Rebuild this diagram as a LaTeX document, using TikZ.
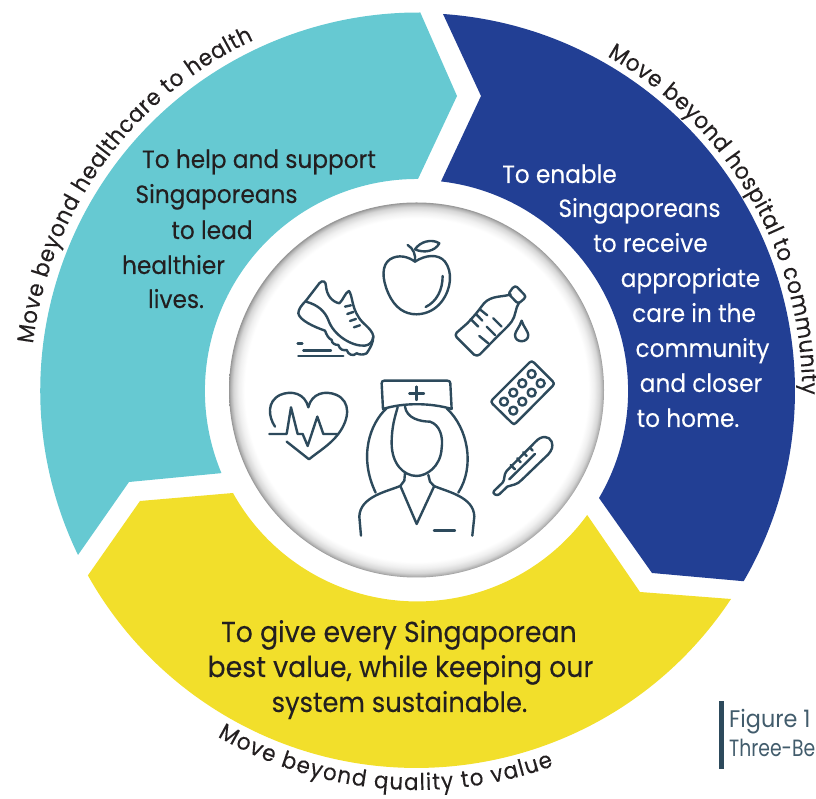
\documentclass[tikz,border=0pt]{standalone}
\usepackage{fontspec}
\setmainfont[FakeStretch=0.93,FakeBold=0.15]{Poppins}
\newfontfamily\capfont[FakeStretch=0.93]{Poppins}
\newfontfamily\capnarrow[FakeStretch=0.8]{Poppins}
\usetikzlibrary{decorations.text}
\definecolor{tealseg}{HTML}{66C9D2}
\definecolor{blueseg}{HTML}{223F94}
\definecolor{yellowseg}{HTML}{F2DF2B}
\definecolor{inkdark}{HTML}{231F20}
\definecolor{iconink}{HTML}{2D4A5C}
\pgfdeclareradialshading{discshade}{\pgfpoint{0bp}{0bp}}{%
 color(0bp)=(white); color(22.9bp)=(white); color(23.7bp)=(white!94!black);
 color(24.4bp)=(white!84!black); color(24.8bp)=(white!70!black); color(25bp)=(white!58!black); color(50bp)=(white!58!black)}
\tikzset{
 bodyline/.style={inner sep=0pt,anchor=base,font=\fontsize{25}{30}\selectfont,text=inkdark},
 whiteline/.style={bodyline,text=white},
 bigline/.style={inner sep=0pt,anchor=base,font=\fontsize{28.8}{34}\selectfont,text=inkdark},
 capline/.style={inner sep=0pt,anchor=base west,font=\capfont\fontsize{24}{28}\selectfont,text=iconink!90!white},
 icon/.style={draw=iconink,line width=2.4pt,line cap=round,line join=round,fill=none},
 arctext/.style={decorate,decoration={text along path,text align={fit to path},text={#1}}}
}
\newcommand{\arcfont}{\fontsize{23}{28}\selectfont\color{inkdark}}
\begin{document}
\begin{tikzpicture}[x=1pt,y=1pt]
\useasboundingbox (0,0) rectangle (816,799);
\coordinate (C) at (417,408);
% ring segments
\fill[tealseg] (78,244) arc[start angle=205.8,end angle=89.7,radius=378pt] -- (457,703) -- (418,620)
  arc[start angle=89.7,end angle=202.8,radius=212pt] -- (129,317) -- cycle;
\fill[blueseg] (443,785) arc[start angle=86.05,end angle=-30.2,radius=378pt] -- (652,226) -- (599,301)
  arc[start angle=-30.45,end angle=83.5,radius=211pt] -- (481,703) -- cycle;
\fill[yellowseg] (731,200) arc[start angle=-33.5,end angle=-150.7,radius=377pt] -- (140,298) -- (233,306)
  arc[start angle=209,end angle=323.9,radius=210.5pt] -- (640,207) -- cycle;
% disc
\shade[shading=discshade] (416.5,409) circle[radius=187.5pt];
% curved labels
\path[arctext={|\arcfont|Move beyond healthcare to health}] (C) ++(173:387) arc[start angle=173,end angle=115,radius=387pt];
\path[arctext={|\arcfont|Move beyond hospital to community}] (C) ++(60.4:385) arc[start angle=60.4,end angle=-0.5,radius=385pt];
\path[arctext={|\arcfont|Move beyond quality to value}] (C) ++(240:399) arc[start angle=240,end angle=290,radius=399pt];
% text, pixel coordinates from the top
\begin{scope}[shift={(0,799)},y=-1pt]
\node[bodyline] (t1) at (259,168) {To help and support};
\node[bodyline] (t2) at (216.5,203) {Singaporeans};
\node[bodyline] (t3) at (212,239) {to lead};
\node[bodyline] (t4) at (173.5,274) {healthier};
\node[bodyline] (t5) at (176,308) {lives.};
\node[whiteline] (b1) at (559.5,183) {To enable};
\node[whiteline] (b2) at (639.5,217) {Singaporeans};
\node[whiteline] (b3) at (650.5,252) {to receive};
\node[whiteline] (b4) at (690.5,287) {appropriate};
\node[whiteline] (b5) at (694,322) {care in the};
\node[whiteline] (b6) at (702.5,357) {community};
\node[whiteline] (b7) at (701,392) {and closer};
\node[whiteline] (b8) at (688,427) {to home.};
\node[bigline] (y1) at (399,642) {To give every Singaporean};
\node[bigline] (y2) at (400.5,677) {best value, while keeping our};
\node[bigline,font=\fontsize{27.7}{34}\selectfont] (y3) at (399.5,712) {system sustainable.};
\fill[iconink] (719,701) rectangle (724.3,769);
\node[capline] (f1) at (729,728) {Figure 1};
\node[capline,font=\capnarrow\fontsize{23.5}{28}\selectfont] (f2) at (729,757) {Three-Be};
\end{scope}
% icons, in 3x crop coordinates
\begin{scope}[shift={(230,589)},x=0.3333pt,y=-0.3333pt]
% apple
\draw[icon] (555,155) .. controls (585,135) and (625,130) .. (645,155) .. controls (668,185) and (665,235) .. (635,275)
  .. controls (615,300) and (590,312) .. (560,313) .. controls (525,313) and (495,295) .. (475,250)
  .. controls (455,205) and (455,165) .. (480,148) .. controls (505,132) and (535,140) .. (555,155);
\draw[icon] (638,198) .. controls (638,240) and (620,275) .. (587,291);
\draw[icon] (555,155) .. controls (558,135) and (550,115) .. (533,105);
\draw[icon] (555,118) .. controls (570,95) and (605,85) .. (628,100) .. controls (615,125) and (580,130) .. (555,118);
% shoe
\draw[icon] (228,272) -- (268,220) .. controls (278,208) and (288,215) .. (288,228) .. controls (290,255) and (305,275) .. (328,280)
  .. controls (340,270) and (345,248) .. (357,243) .. controls (368,258) and (365,290) .. (385,320)
  .. controls (395,340) and (425,355) .. (430,378) .. controls (430,400) and (420,415) .. (410,430);
\draw[icon] (228,272) .. controls (215,285) and (205,298) .. (205,310) .. controls (208,330) and (250,350) .. (285,362)
  .. controls (290,375) and (295,385) .. (305,390) .. controls (305,400) and (315,405) .. (325,405)
  .. controls (330,420) and (340,422) .. (350,420) .. controls (355,435) and (370,440) .. (380,430) .. controls (390,435) and (400,435) .. (410,430);
\draw[icon] (228,275) .. controls (265,285) and (285,305) .. (295,330) .. controls (310,375) and (365,410) .. (405,407) .. controls (420,405) and (428,395) .. (430,380);
\draw[icon] (345,290) -- (363,286) (352,312) -- (370,306) (360,333) -- (378,327) (372,352) -- (390,346);
\draw[icon] (203,400) -- (217,400) (220,421) -- (303,421) (205,438) -- (340,438);
% bottle
\draw[icon] (838,248) -- (848,234) .. controls (853,228) and (858,228) .. (862,232) -- (883,254) .. controls (887,258) and (887,262) .. (882,267) -- (870,277) .. controls (866,280) and (862,279) .. (858,275) -- (838,254) .. controls (836,252) and (836,250) .. (838,248);
\draw[icon] (842,253) .. controls (820,262) and (785,255) .. (762,280) .. controls (750,295) and (745,305) .. (712,340) -- (680,368) .. controls (676,372) and (676,378) .. (680,382) -- (732,434) .. controls (738,438) and (745,438) .. (750,433) -- (790,392) .. controls (805,375) and (830,355) .. (845,335) .. controls (858,318) and (855,295) .. (868,277);
\draw[icon] (722,327) -- (745,350) (738,312) -- (757,332) (752,300) -- (772,316);
\draw[icon] (790,325) -- (815,350) (770,350) -- (795,375) (748,378) -- (775,400);
\draw[icon] (875,332) .. controls (870,350) and (855,365) .. (855,375) .. controls (855,400) and (895,400) .. (895,375) .. controls (895,365) and (880,350) .. (875,332);
% blister pack
\draw[icon] (898,458) .. controls (902,453) and (908,453) .. (912,458) -- (968,514) .. controls (973,518) and (973,524) .. (968,528) -- (859,638) .. controls (855,644) and (849,644) .. (845,638) -- (788,582) .. controls (783,578) and (783,572) .. (788,568) -- cycle;
\foreach \px/\py in {905/492,877/520,932/520,850/548,905/548,877/575,822/575,850/602}
  \draw[icon] (\px,\py) circle[radius=4pt];
% thermometer
\draw[icon] (792,843) -- (818,818) .. controls (826,808) and (820,795) .. (830,783) -- (917,695) .. controls (935,675) and (958,678) .. (965,695) .. controls (970,710) and (966,720) .. (955,733) -- (875,810) .. controls (862,825) and (845,825) .. (832,830) -- (808,853) .. controls (800,860) and (785,850) .. (792,843);
\draw[icon] (915,732) -- (838,808);
\draw[icon] (842,765) -- (855,778) (862,745) -- (872,757) (880,727) -- (890,738) (900,713) -- (908,722);
% heart
\draw[icon] (135,650) .. controls (115,620) and (110,575) .. (150,555) .. controls (185,540) and (225,550) .. (235,592)
  .. controls (245,550) and (285,540) .. (320,555) .. controls (362,575) and (360,625) .. (325,672)
  .. controls (300,705) and (265,725) .. (237,748) -- (170,695);
\draw[icon] (118,672) -- (170,672) -- (183,592) -- (203,672) -- (218,672) -- (233,708) -- (262,620) -- (280,672) -- (322,672);
% nurse
\draw[icon] (455,520) .. controls (455,515) and (458,512) .. (463,512) -- (652,512) .. controls (658,512) and (661,515) .. (661,520) -- (665,597) .. controls (600,578) and (520,578) .. (459,597) -- cycle;
\draw[icon] (560,530) -- (560,570) (538,550) -- (582,550);
\draw[icon] (470,595) .. controls (420,640) and (385,740) .. (437,848);
\draw[icon] (650,595) .. controls (715,655) and (735,770) .. (685,848);
\draw[icon] (525,590) .. controls (530,625) and (570,635) .. (600,635) .. controls (630,645) and (640,680) .. (635,715)
  .. controls (632,770) and (590,798) .. (560,798) .. controls (520,798) and (485,760) .. (485,700) .. controls (485,650) and (495,620) .. (503,592);
\draw[icon] (525,790) -- (523,812) -- (511,828) (595,795) -- (600,815) -- (612,828);
\draw[icon] (512,830) -- (560,942) -- (612,830);
\draw[icon] (511,828) .. controls (470,845) and (390,860) .. (388,920) -- (393,977);
\draw[icon] (612,828) .. controls (650,845) and (732,860) .. (733,920) -- (727,977);
\draw[icon] (612,962) -- (675,962);
\end{scope}
\end{tikzpicture}
\end{document}
